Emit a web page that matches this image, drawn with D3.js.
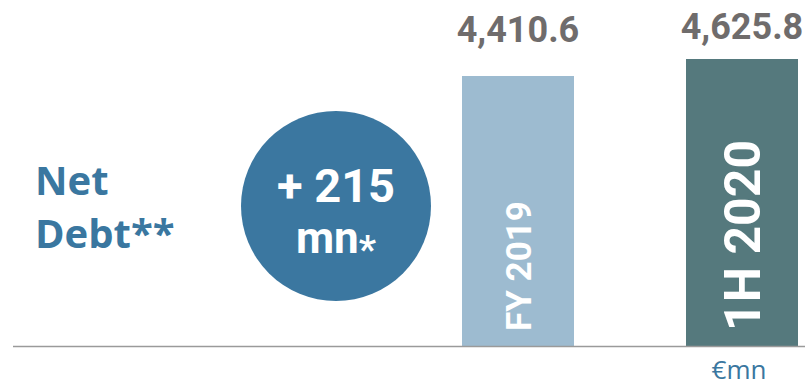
<!DOCTYPE html>
<html>
<head>
<meta charset="utf-8">
<script src="https://cdn.jsdelivr.net/npm/d3@7/dist/d3.min.js"></script>
<style>
  html, body { margin: 0; padding: 0; background: #ffffff; }
  svg { display: block; }
</style>
</head>
<body>
<svg id="chart" width="805" height="388"></svg>
<script>
// ---- data ----
const categories = ["FY 2019", "1H 2020"];
const values = [4410.6, 4625.8];
const valueLabels = ["4,410.6", "4,625.8"];
const barColors = ["#9dbbd0", "#55797d"];
const titleLines = ["Net", "Debt**"];
const changeMain = "+ 215";
const changeUnit = "mn";
const changeNote = "*";
const unitLabel = "€mn";

// ---- layout ----
const W = 805, H = 388;
const baseY = 346;
const svg = d3.select("#chart");

const x = d3.scaleBand()
  .domain(categories)
  .range([406, 854])
  .paddingInner(0.5)
  .paddingOuter(0.25);

const y = d3.scaleLinear()
  .domain([993, 4625.8])
  .range([baseY, 59]);

// bars
svg.selectAll("rect.bar")
  .data(categories)
  .enter().append("rect")
  .attr("class", "bar")
  .attr("x", d => x(d))
  .attr("width", x.bandwidth())
  .attr("y", (d, i) => y(values[i]))
  .attr("height", (d, i) => baseY - y(values[i]))
  .attr("fill", (d, i) => barColors[i]);

// baseline
svg.append("line")
  .attr("x1", 13).attr("x2", W)
  .attr("y1", baseY + 0.5).attr("y2", baseY + 0.5)
  .attr("stroke", "#9a9a9a")
  .attr("stroke-width", 1.5);

// value labels
svg.selectAll("text.val")
  .data(categories)
  .enter().append("text")
  .attr("class", "val")
  .attr("x", d => x(d) + x.bandwidth() / 2)
  .attr("y", (d, i) => 30 + y(values[i]) * 0.16)
  .attr("text-anchor", "middle")
  .attr("font-family", "Roboto, sans-serif")
  .attr("font-weight", "bold")
  .attr("font-size", 36)
  .attr("fill", "#6f6c6c")
  .text((d, i) => valueLabels[i]);

// rotated category labels inside bars
const catSizes = [35, 50];
svg.selectAll("text.cat")
  .data(categories)
  .enter().append("text")
  .attr("class", "cat")
  .attr("transform", (d, i) => `translate(${x(d) + x.bandwidth() / 2},${baseY - 15}) rotate(-90)`)
  .attr("dy", "0.36em")
  .attr("text-anchor", "start")
  .attr("font-family", "Roboto, sans-serif")
  .attr("font-weight", "bold")
  .attr("font-size", (d, i) => catSizes[i])
  .attr("fill", "#ffffff")
  .text(d => d);

// title
const title = svg.append("text")
  .attr("font-family", "'Open Sans', sans-serif")
  .attr("font-weight", "bold")
  .attr("font-size", 40)
  .attr("fill", "#3a77a0");
title.selectAll("tspan")
  .data(titleLines)
  .enter().append("tspan")
  .attr("x", 35)
  .attr("y", (d, i) => 195 + i * 53)
  .text(d => d);

// circle
const cx = 336, cy = 206, r = 95;
svg.append("circle")
  .attr("cx", cx).attr("cy", cy).attr("r", r)
  .attr("fill", "#3b77a0");

svg.append("text")
  .attr("x", cx).attr("y", 202)
  .attr("text-anchor", "middle")
  .attr("font-family", "Roboto, sans-serif")
  .attr("font-weight", "bold")
  .attr("font-size", 47)
  .attr("fill", "#ffffff")
  .text(changeMain);

const unitText = svg.append("text")
  .attr("x", cx).attr("y", 253)
  .attr("text-anchor", "middle")
  .attr("font-family", "Roboto, sans-serif")
  .attr("font-weight", "bold")
  .attr("font-size", 44)
  .attr("fill", "#ffffff");
unitText.append("tspan").text(changeUnit);
unitText.append("tspan")
  .attr("dy", 10)
  .attr("font-size", 38)
  .text(changeNote);

// unit label
svg.append("text")
  .attr("x", 739).attr("y", 379)
  .attr("text-anchor", "middle")
  .attr("font-family", "'Open Sans', sans-serif")
  .attr("font-size", 26)
  .attr("fill", "#3a77a0")
  .text(unitLabel);
</script>
</body>
</html>
